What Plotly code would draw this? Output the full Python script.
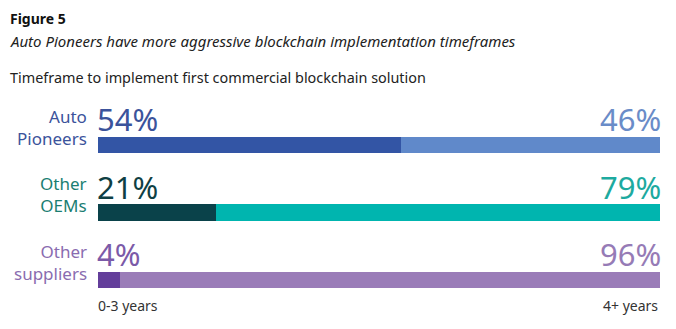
import plotly.graph_objects as go

groups = ["Auto<br>Pioneers", "Other<br>OEMs", "Other<br>suppliers"]
short_term = [54, 21, 4]
long_term = [46, 79, 96]
dark_colors = ["#3355A5", "#0A424A", "#633E9A"]
light_colors = ["#6089CA", "#00B5AF", "#9A7CB8"]
label_colors = ["#3B539B", "#1A7E72", "#8A6CB0"]
left_text_colors = ["#3B539B", "#0F3F44", "#7B5AA8"]
right_text_colors = ["#6A8CC8", "#1DAA9F", "#967BB6"]
axis_labels = ["0-3 years", "4+ years"]

FONT = "Noto Sans"
W, H = 676, 329
L, R, T, B = 98, 16, 100, 29

ypos = list(range(len(groups)))

fig = go.Figure()
fig.add_trace(go.Bar(y=ypos, x=short_term, orientation="h", marker=dict(color=dark_colors, line=dict(width=0)),
                     width=0.24, hoverinfo="skip"))
fig.add_trace(go.Bar(y=ypos, x=long_term, orientation="h", marker=dict(color=light_colors, line=dict(width=0)),
                     width=0.24, hoverinfo="skip"))

ann = []
for i, g in enumerate(groups):
    ann.append(dict(x=0, y=i, xref="x", yref="y", text=g, showarrow=False, xanchor="right", yanchor="middle",
                    xshift=-9, yshift=18, align="right",
                    font=dict(family=FONT, size=17, color=label_colors[i])))
    ann.append(dict(x=0, y=i, xref="x", yref="y", text=f"{short_term[i]}%", showarrow=False, xanchor="left",
                    yanchor="bottom", xshift=-3, yshift=3,
                    font=dict(family=FONT, size=31, color=left_text_colors[i])))
    ann.append(dict(x=100, y=i, xref="x", yref="y", text=f"{long_term[i]}%", showarrow=False, xanchor="right",
                    yanchor="bottom", xshift=3, yshift=3,
                    font=dict(family=FONT, size=31, color=right_text_colors[i])))

ann.append(dict(x=0, y=0, xref="x", yref="paper", text=axis_labels[0], showarrow=False, xanchor="left",
                yanchor="top", yshift=6, xshift=-2, font=dict(family=FONT, size=14, color="#333333")))
ann.append(dict(x=100, y=0, xref="x", yref="paper", text=axis_labels[1], showarrow=False, xanchor="right",
                yanchor="top", yshift=6, xshift=0, font=dict(family=FONT, size=14, color="#333333")))

titles = [
    ("<b>Figure 5</b>", 18, 14, "#111111"),
    ("<i>Auto Pioneers have more aggressive blockchain implementation timeframes</i>", 41, 15, "#222222"),
    ("Timeframe to implement first commercial blockchain solution", 77, 14.4, "#222222"),
]
plot_w = W - L - R
plot_h = H - T - B
for txt, ypx, sz, col in titles:
    ann.append(dict(x=(8 - L) / plot_w, y=(H - B - ypx) / plot_h, xref="paper", yref="paper", text=txt,
                    showarrow=False, xanchor="left", yanchor="middle",
                    font=dict(family=FONT, size=sz, color=col)))

unit = 67.5
top_val = -(145 - T) / unit
bot_val = top_val + plot_h / unit

fig.update_layout(
    width=W, height=H, barmode="stack", showlegend=False,
    margin=dict(l=L, r=R, t=T, b=B),
    plot_bgcolor="white", paper_bgcolor="white",
    xaxis=dict(range=[0, 100], visible=False, fixedrange=True),
    yaxis=dict(range=[bot_val, top_val], visible=False, fixedrange=True),
    annotations=ann,
    font=dict(family=FONT),
)
fig.write_html("out.html")
